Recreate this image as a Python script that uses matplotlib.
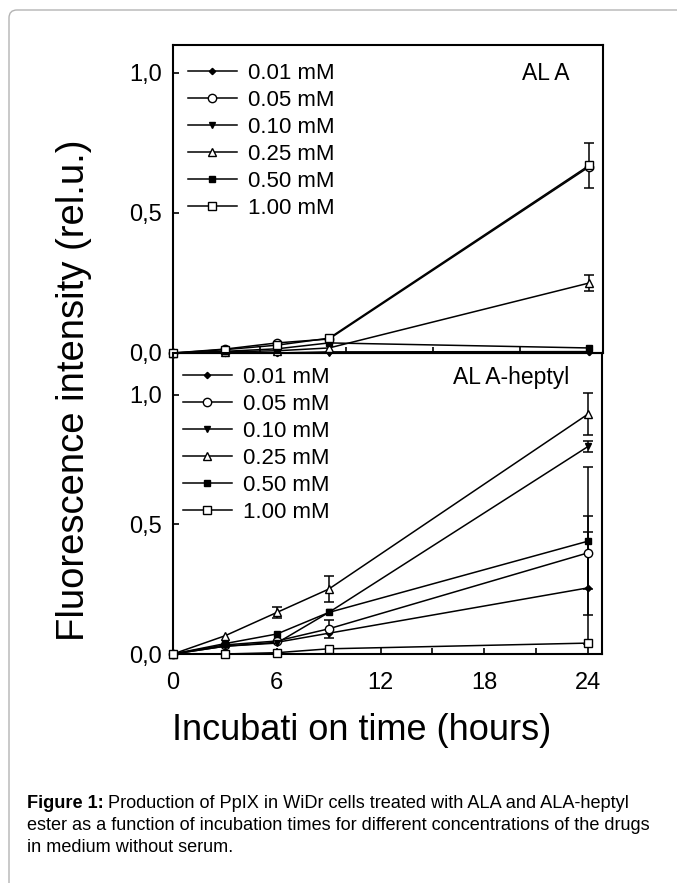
import matplotlib
matplotlib.use("Agg")
import matplotlib.pyplot as plt
from matplotlib.lines import Line2D
from matplotlib.patches import FancyBboxPatch
from matplotlib.transforms import IdentityTransform
from matplotlib.ticker import FuncFormatter

plt.rcParams['font.family'] = ['Liberation Sans', 'DejaVu Sans']

# ---------------- data ----------------
hours = [0, 3, 6, 9, 24]
labels = ["0.01 mM", "0.05 mM", "0.10 mM", "0.25 mM", "0.50 mM", "1.00 mM"]

# ALA
ala_001 = [0.0, 0.0, 0.0, 0.004, 0.005]
ala_005 = [0.0, 0.014, 0.036, 0.050, 0.665]
ala_010 = [0.0, 0.0, 0.0, 0.0, 0.004]
ala_025 = [0.0, 0.004, 0.008, 0.018, 0.250]
ala_050 = [0.0, 0.006, 0.015, 0.036, 0.018]
ala_100 = [0.0, 0.012, 0.028, 0.053, 0.670]
ala_err_025 = [0, 0, 0, 0, 0.030]
ala_err_100 = [0, 0, 0, 0, 0.080]

# ALA-heptyl
hep_001 = [0.0, 0.030, 0.045, 0.080, 0.255]
hep_005 = [0.0, 0.035, 0.050, 0.097, 0.390]
hep_010 = [0.0, 0.030, 0.042, 0.160, 0.800]
hep_025 = [0.0, 0.070, 0.160, 0.250, 0.925]
hep_050 = [0.0, 0.040, 0.077, 0.160, 0.435]
hep_100 = [0.0, 0.000, 0.005, 0.020, 0.042]
hep_err_001 = [0, 0, 0, 0, 0.215]
hep_err_005 = [0, 0, 0, 0.035, 0.140]
hep_err_010 = [0, 0, 0, 0, 0.022]
hep_err_025 = [0, 0, 0.020, 0.050, 0.080]
hep_err_050 = [0, 0, 0, 0, 0.285]

# marker styles: (marker, size, facecolor)
styles = [("D", 3.2, "black"), ("o", 6.0, "white"), ("v", 4.5, "black"),
          ("^", 5.5, "white"), ("s", 5.0, "black"), ("s", 5.5, "white")]

W, H = 677, 883
fig = plt.figure(figsize=(W / 100, H / 100), dpi=100)

# rounded light border
border = FancyBboxPatch((9, -30), 720, H - 10 + 30,
                        boxstyle="round,pad=0,rounding_size=8",
                        transform=IdentityTransform(), facecolor="none",
                        edgecolor="#b4b4b4", linewidth=1.0)
fig.patches.append(border)


def frac_axes(l, t, r, b):
    return [l / W, 1 - b / H, (r - l) / W, (b - t) / H]


ax1 = fig.add_axes(frac_axes(173, 45, 603, 353))
ax2 = fig.add_axes(frac_axes(173, 353, 602, 654))

comma = FuncFormatter(lambda v, p: f"{v:.1f}".replace(".", ","))


def draw(ax, series, errs):
    for i, ys in enumerate(series):
        m, ms, fc = styles[i]
        ax.plot(hours, ys, color="black", lw=1.1, marker=m, ms=ms,
                mfc=fc, mec="black", mew=1.0, clip_on=False, zorder=3 + i * 0.01)
        e = errs[i]
        if e is not None:
            xs = [hours[k] for k in range(len(hours)) if e[k] > 0]
            yv = [ys[k] for k in range(len(hours)) if e[k] > 0]
            ev = [e[k] for k in range(len(hours)) if e[k] > 0]
            ax.errorbar(xs, yv, yerr=ev, fmt="none", ecolor="black",
                        elinewidth=1.1, capsize=3.5, capthick=1.1,
                        clip_on=False, zorder=2)


draw(ax1, [ala_001, ala_005, ala_010, ala_025, ala_050, ala_100],
     [None, None, None, ala_err_025, None, ala_err_100])
draw(ax2, [hep_001, hep_005, hep_010, hep_025, hep_050, hep_100],
     [hep_err_001, hep_err_005, hep_err_010, hep_err_025, hep_err_050, None])

for ax in (ax1, ax2):
    ax.set_xlim(0, 24.8)
    ax.set_yticks([0, 0.5, 1.0])
    ax.yaxis.set_major_formatter(comma)
    ax.tick_params(axis="both", direction="in", length=4, width=1.2,
                   labelsize=17, pad=8)
    for s in ax.spines.values():
        s.set_linewidth(1.5)
    ax.patch.set_alpha(0)

ax1.set_ylim(0, 1.1)
ax2.set_ylim(0, 1.16)
ax1.set_xticks([0, 5, 10, 15, 20])
ax1.tick_params(axis="x", labelbottom=False)
ax2.set_xticks([0, 6, 12, 18, 24])
ax2.set_xticks([3, 9, 15, 21], minor=True)
ax2.tick_params(axis="x", which="minor", direction="in", length=4, width=1.2)
ax2.tick_params(axis="x", pad=13)

# legends
handles = [Line2D([], [], color="black", lw=1.1, marker=m, ms=ms, mfc=fc,
                  mec="black", mew=1.0) for (m, ms, fc) in styles]
for ax, anchor in ((ax1, (0.034, 0.942)), (ax2, (0.023, 0.955))):
    ax.legend(handles, labels, loc="upper left", bbox_to_anchor=anchor,
              frameon=False, fontsize=16, handlelength=2.2,
              handletextpad=0.5, labelspacing=0.27, borderpad=0,
              borderaxespad=0)

ax1.text(0.867, 0.909, "AL A", transform=ax1.transAxes, fontsize=16.5,
         ha="center", va="center")
ax2.text(0.788, 0.917, "AL A-heptyl", transform=ax2.transAxes, fontsize=16.5,
         ha="center", va="center")

fig.text(74 / W, 1 - 390 / H, "Fluorescence intensity (rel.u.)", rotation=90,
         fontsize=27.5, ha="center", va="center")
fig.text(362 / W, 1 - 731 / H, "Incubati on time (hours)", fontsize=26,
         ha="center", va="center")

# caption
cap_font = ['Liberation Sans', 'DejaVu Sans']
cap_size = 13.1
cx = 27 / W
t1 = fig.text(cx, 1 - 803 / H, "Figure 1:", fontsize=cap_size, fontweight="bold",
              family=cap_font, va="center", ha="left")
fig.canvas.draw()
bb = t1.get_window_extent()
fig.text((bb.x1 + 4) / W, 1 - 803 / H,
         "Production of PpIX in WiDr cells treated with ALA and ALA-heptyl",
         fontsize=cap_size, family=cap_font, va="center", ha="left")
fig.text(cx, 1 - 825 / H,
         "ester as a function of incubation times for different concentrations of the drugs",
         fontsize=cap_size, family=cap_font, va="center", ha="left")
fig.text(cx, 1 - 847 / H, "in medium without serum.",
         fontsize=cap_size, family=cap_font, va="center", ha="left")

fig.savefig("out.png", dpi=100)
